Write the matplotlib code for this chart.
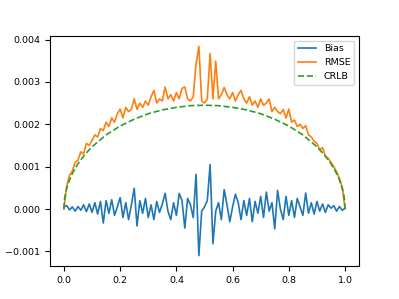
import numpy as np
import matplotlib
matplotlib.use("Agg")
import matplotlib.pyplot as plt

# sample positions for Bias / RMSE
x = [i / 100 for i in range(101)]

# values in units of 1e-3
bias = [0.05, 0.08, -0.02, 0.05, -0.05, 0.06, -0.03, 0.10, -0.06, 0.12,
        -0.08, 0.15, -0.12, 0.18, -0.33, 0.20, -0.10, 0.22, -0.15, 0.05,
        0.27, -0.20, 0.15, -0.25, 0.10, 0.49, -0.40, 0.20, -0.10, 0.25,
        -0.20, 0.10, -0.25, 0.18, -0.08, 0.12, 0.37, -0.05, -0.25, 0.15,
        -0.15, 0.37, 0.20, -0.45, 0.25, 0.10, -0.20, 0.82, -1.10, -0.05,
        0.05, 0.20, 1.05, -0.82, -0.05, 0.15, -0.25, 0.46, 0.10, -0.30,
        0.05, 0.35, 0.15, -0.25, 0.20, -0.15, 0.25, -0.30, 0.18, -0.10,
        0.30, -0.20, 0.40, -0.05, 0.15, -0.47, 0.44, 0.00, -0.25, 0.30,
        -0.15, 0.20, -0.20, 0.25, 0.05, -0.15, 0.38, -0.10, 0.15, -0.12,
        0.18, -0.05, 0.12, -0.08, 0.10, 0.02, 0.08, -0.05, 0.06, -0.03,
        0.02]

rmse = [0.00, 0.55, 0.80, 0.90, 1.10, 1.15, 1.35, 1.30, 1.55, 1.50,
        1.62, 1.75, 1.70, 1.90, 1.85, 2.05, 1.95, 2.15, 2.05, 2.25,
        2.36, 2.15, 2.40, 2.30, 2.35, 2.60, 2.35, 2.50, 2.40, 2.55,
        2.45, 2.65, 2.80, 2.50, 2.60, 2.55, 2.88, 2.60, 2.70, 2.55,
        2.75, 2.60, 2.85, 2.88, 2.60, 2.55, 2.65, 3.42, 3.84, 2.55,
        2.50, 2.60, 3.67, 2.60, 3.49, 2.60, 2.70, 2.87, 2.70, 2.60,
        2.75, 2.55, 2.70, 2.80, 2.60, 2.50, 2.65, 2.45, 2.55, 2.40,
        2.60, 2.45, 2.50, 2.60, 2.30, 2.40, 2.30, 2.25, 2.35, 2.15,
        2.36, 2.05, 2.10, 1.95, 2.00, 1.90, 1.97, 1.75, 1.70, 1.60,
        1.55, 1.40, 1.45, 1.25, 1.20, 1.10, 1.00, 0.88, 0.72, 0.52,
        0.00]

crlb_x = [0, 0.001, 0.002, 0.005, 0.01, 0.02, 0.03, 0.05, 0.075, 0.1, 0.15,
          0.2, 0.25, 0.3, 0.35, 0.4, 0.45, 0.5, 0.55, 0.6, 0.65, 0.7, 0.75,
          0.8, 0.85, 0.9, 0.925, 0.95, 0.97, 0.98, 0.99, 0.995, 0.998,
          0.999, 1.0]
crlb = [0.0, 0.155, 0.22, 0.35, 0.49, 0.69, 0.84, 1.07, 1.29, 1.47, 1.75,
        1.96, 2.12, 2.25, 2.34, 2.40, 2.44, 2.45, 2.44, 2.40, 2.34, 2.25,
        2.12, 1.96, 1.75, 1.47, 1.29, 1.07, 0.84, 0.69, 0.49, 0.35, 0.22,
        0.155, 0.0]

scale = 1e-3

fig, ax = plt.subplots(figsize=(3.99, 2.99), dpi=100)
ax.plot(x, np.array(bias) * scale, color="#1f77b4", lw=1.2, label="Bias")
ax.plot(x, np.array(rmse) * scale, color="#ff7f0e", lw=1.2, label="RMSE")
ax.plot(crlb_x, np.array(crlb) * scale, color="#2ca02c", lw=1.2,
        linestyle="--", label="CRLB")
ax.legend(loc="upper right", fontsize=6.8)
ax.tick_params(labelsize=6.8)
fig.savefig("out.png", dpi=100)
